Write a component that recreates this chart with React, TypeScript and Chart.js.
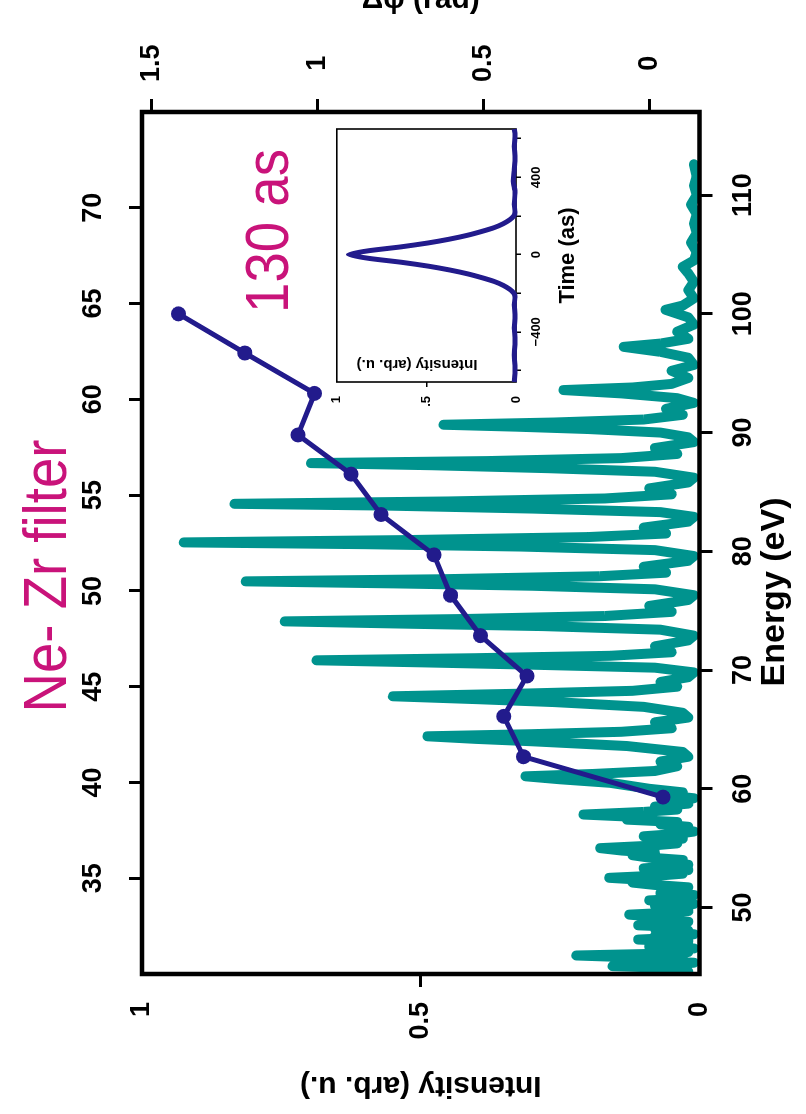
import React, { useEffect, useRef } from "react";
import { Chart, registerables } from "chart.js";

Chart.register(...registerables);

const FONT = '"Liberation Sans", Arial, Helvetica, sans-serif';
const TEAL = "#00938e";
const NAVY = "#221b8c";
const MAGENTA = "#c9137a";

// Harmonic spectrum transmitted through the Zr filter (energy in eV, intensity in arb. u.)
const spectrumEnergy = [
  44.6, 44.75, 44.9, 45.06, 45.2, 45.35, 45.5, 45.65, 45.8, 45.96, 46.1, 46.25, 46.4, 46.55, 46.7, 46.85,
  47.0, 47.15, 47.3, 47.45, 47.6, 47.75, 47.9, 48.05, 48.2, 48.35, 48.5, 48.65, 48.8, 48.95, 49.1, 49.25,
  49.4, 49.55, 49.7, 49.85, 50.0, 50.15, 50.3, 50.45, 50.6, 50.75, 50.9, 51.05, 51.2, 51.35, 51.5, 51.7,
  51.9, 52.1, 52.3, 52.5, 52.7, 52.85, 53.0, 53.15, 53.3, 53.45, 53.6, 53.8, 54.0, 54.2, 54.4, 54.6,
  54.8, 55.0, 55.2, 55.4, 55.6, 55.8, 56.0, 56.2, 56.4, 56.6, 56.8, 57.0, 57.2, 57.4, 57.6, 57.83,
  58.05, 58.25, 58.5, 58.75, 59.0, 59.2, 59.45, 59.7, 60.0, 60.5, 60.8, 61.05, 61.25, 61.5, 61.9, 62.3,
  62.7, 63.1, 63.6, 64.0, 64.2, 64.42, 64.6, 64.8, 65.1, 65.6, 66.0, 66.4, 66.9, 67.3, 67.55, 67.79,
  68.0, 68.25, 68.6, 69.0, 69.4, 69.8, 70.2, 70.45, 70.65, 70.82, 71.0, 71.2, 71.5, 72.0, 72.5, 72.9,
  73.4, 73.7, 73.9, 74.1, 74.3, 74.55, 74.9, 75.4, 75.9, 76.3, 76.8, 77.1, 77.3, 77.47, 77.65, 77.9,
  78.2, 78.7, 79.2, 79.6, 80.1, 80.4, 80.6, 80.75, 80.95, 81.2, 81.5, 82.0, 82.5, 82.9, 83.3, 83.6,
  83.85, 84.0, 84.2, 84.45, 84.8, 85.3, 85.8, 86.2, 86.7, 87.0, 87.25, 87.43, 87.6, 87.85, 88.2, 88.7,
  89.2, 89.6, 90.0, 90.3, 90.5, 90.66, 90.85, 91.1, 91.5, 92.0, 92.5, 92.9, 93.3, 93.58, 93.8, 94.1,
  94.6, 95.2, 95.7, 96.3, 96.8, 97.22, 97.5, 97.9, 98.5, 99.1, 99.7, 100.34, 100.7, 101.3, 102.0, 102.7,
  103.4, 103.96, 104.5, 105.2, 106.0, 106.8, 107.6, 108.4, 109.2, 110.0, 110.8, 111.6, 112.6,
];
const spectrumIntensity = [
  0.02, 0.08, 0.04, 0.156, 0.05, 0.01, 0.09, 0.03, 0.12, 0.221, 0.08, 0.02, 0.06, 0.01, 0.09, 0.03,
  0.07, 0.02, 0.11, 0.04, 0.08, 0.01, 0.06, 0.02, 0.08, 0.03, 0.11, 0.05, 0.02, 0.07, 0.04, 0.09,
  0.126, 0.06, 0.02, 0.07, 0.03, 0.08, 0.01, 0.05, 0.09, 0.02, 0.06, 0.01, 0.07, 0.03, 0.05, 0.02,
  0.08, 0.12, 0.09, 0.162, 0.07, 0.03, 0.08, 0.02, 0.10, 0.05, 0.02, 0.07, 0.03, 0.09, 0.12, 0.08,
  0.14, 0.178, 0.09, 0.04, 0.08, 0.03, 0.10, 0.04, 0.01, 0.05, 0.02, 0.07, 0.04, 0.13, 0.10, 0.208,
  0.10, 0.04, 0.08, 0.02, 0.05, 0.01, 0.06, 0.03, 0.09, 0.16, 0.25, 0.312, 0.19, 0.08, 0.04, 0.07,
  0.02, 0.03, 0.13, 0.30, 0.40, 0.488, 0.30, 0.14, 0.05, 0.08, 0.02, 0.03, 0.10, 0.26, 0.40, 0.55,
  0.33, 0.12, 0.04, 0.07, 0.02, 0.01, 0.08, 0.30, 0.50, 0.687, 0.40, 0.16, 0.05, 0.08, 0.02, 0.01,
  0.07, 0.28, 0.52, 0.744, 0.42, 0.17, 0.05, 0.09, 0.02, 0.01, 0.08, 0.30, 0.55, 0.814, 0.46, 0.18,
  0.06, 0.10, 0.02, 0.01, 0.08, 0.32, 0.60, 0.925, 0.52, 0.20, 0.06, 0.10, 0.02, 0.01, 0.07, 0.30,
  0.56, 0.834, 0.45, 0.17, 0.05, 0.09, 0.02, 0.01, 0.08, 0.27, 0.48, 0.697, 0.38, 0.14, 0.04, 0.08,
  0.01, 0.02, 0.07, 0.20, 0.33, 0.459, 0.26, 0.10, 0.03, 0.06, 0.01, 0.04, 0.14, 0.244, 0.12, 0.05,
  0.02, 0.05, 0.01, 0.02, 0.07, 0.136, 0.07, 0.02, 0.04, 0.01, 0.02, 0.061, 0.03, 0.01, 0.02, 0.01,
  0.02, 0.03, 0.01, 0.005, 0.015, 0.005, 0.01, 0.005, 0.015, 0.005, 0.01, 0.005, 0.01,
];

// Phase difference between neighbouring harmonics
const phaseEnergy = [59.3, 62.7, 66.1, 69.5, 72.9, 76.3, 79.7, 83.1, 86.5, 89.8, 93.3, 96.7, 100.0];
const phaseDelta = [-0.04, 0.38, 0.44, 0.37, 0.51, 0.6, 0.65, 0.81, 0.9, 1.06, 1.01, 1.22, 1.42];

const energyTicks = [50, 60, 70, 80, 90, 100, 110];
const energyLabels = ["50", "60", "70", "80", "90", "100", "110"];
const orderTicks = [35, 40, 45, 50, 55, 60, 65, 70];
const orderLabels = ["35", "40", "45", "50", "55", "60", "65", "70"];
const intensityTicks = [0, 0.5, 1];
const intensityLabels = ["0", "0.5", "1"];
const phaseTicks = [0, 0.5, 1, 1.5];
const phaseLabels = ["0", "0.5", "1", "1.5"];

// Reconstructed attosecond pulse (inset)
const pulseTime = [
  -660, -600, -520, -440, -380, -320, -260, -220, -200, -180, -160, -140, -120, -100, -80, -60, -40, -20, 0,
  20, 40, 60, 80, 100, 120, 140, 160, 180, 200, 220, 260, 320, 380, 440, 500, 560, 620, 650,
];
const pulseIntensity = [
  0.01, 0.005, 0.01, 0.005, 0.01, 0.005, 0.01, 0.005, 0.012, 0.035, 0.07, 0.12, 0.19, 0.27, 0.37, 0.49, 0.64, 0.82, 0.935,
  0.82, 0.64, 0.49, 0.37, 0.27, 0.19, 0.12, 0.07, 0.035, 0.012, 0.005, 0.01, 0.005, 0.015, 0.01, 0.005, 0.01, 0.005, 0.01,
];
const timeTicks = [-600, -400, -200, 0, 200, 400, 600];
const timeTickLabels = ["", "\u2212400", "", "0", "", "400", ""];
const insetIntensityTicks = [0, 0.5, 1];
const insetIntensityLabels = ["0", ".5", "1"];

type AxisSpec = {
  position: string;
  min: number;
  max: number;
  values: number[];
  labels: string[];
  fixed: number;
  tickLength: number;
  tickWidth: number;
  fontSize: number;
  padding: number;
  crossAlign?: string;
  marked?: number[];
  title?: any;
};

function makeAxis(spec: AxisSpec) {
  const marked = spec.marked;
  return {
    type: "linear",
    position: spec.position,
    min: spec.min,
    max: spec.max,
    afterBuildTicks: (scale: any) => {
      scale.ticks = spec.values.map((v) => ({ value: v }));
    },
    afterFit: (scale: any) => {
      if (scale.isHorizontal()) scale.height = spec.fixed;
      else scale.width = spec.fixed;
    },
    grid: {
      drawOnChartArea: false,
      drawTicks: true,
      tickLength: spec.tickLength,
      lineWidth: spec.tickWidth,
      tickWidth: spec.tickWidth,
      color: "#000",
      tickColor: marked
        ? (c: any) => (c.tick && marked.indexOf(c.tick.value) >= 0 ? "#000" : "rgba(0,0,0,0)")
        : "#000",
    },
    border: { display: false },
    ticks: {
      autoSkip: false,
      maxRotation: 0,
      minRotation: 0,
      padding: spec.padding,
      crossAlign: spec.crossAlign || "near",
      color: "#000",
      font: { family: FONT, size: spec.fontSize, weight: "bold" },
      callback: (_v: any, i: number) => spec.labels[i],
    },
    title: spec.title || { display: false },
  };
}

function drawCaption(ctx: CanvasRenderingContext2D, text: string, cx: number, baseline: number) {
  ctx.save();
  ctx.translate(cx, baseline);
  ctx.scale(0.88, 1);
  ctx.font = `62px ${FONT}`;
  ctx.fillStyle = MAGENTA;
  ctx.textAlign = "center";
  ctx.textBaseline = "alphabetic";
  ctx.fillText(text, 0, 0);
  ctx.restore();
}

const mainDecor = {
  id: "mainDecor",
  afterDraw(chart: any) {
    const { ctx, chartArea } = chart;
    ctx.save();
    ctx.strokeStyle = "#000";
    ctx.lineWidth = 4.5;
    ctx.strokeRect(chartArea.left, chartArea.top, chartArea.right - chartArea.left, chartArea.bottom - chartArea.top);
    // energy axis title, set somewhat left of the axis centre
    ctx.font = `bold 34px ${FONT}`;
    ctx.fillStyle = "#000";
    ctx.textAlign = "center";
    ctx.textBaseline = "middle";
    ctx.fillText("Energy (eV)", 522, 775);
    ctx.restore();
    drawCaption(ctx, "Ne- Zr filter", 538, 66);
    drawCaption(ctx, "130 as", 883, 288);
  },
};

const insetDecor = {
  id: "insetDecor",
  beforeDatasetsDraw(chart: any) {
    const { ctx, chartArea } = chart;
    ctx.save();
    ctx.fillStyle = "#fff";
    ctx.fillRect(chartArea.left, chartArea.top, chartArea.right - chartArea.left, chartArea.bottom - chartArea.top);
    ctx.strokeStyle = "#000";
    ctx.lineWidth = 1.6;
    ctx.strokeRect(chartArea.left, chartArea.top, chartArea.right - chartArea.left, chartArea.bottom - chartArea.top);
    ctx.restore();
  },
  afterDraw(chart: any) {
    const { ctx } = chart;
    ctx.save();
    ctx.translate(70, 97);
    ctx.rotate(-Math.PI / 2);
    ctx.font = `bold 15px ${FONT}`;
    ctx.fillStyle = "#000";
    ctx.textAlign = "center";
    ctx.textBaseline = "middle";
    ctx.fillText("Intensity (arb. u.)", 0, 0);
    ctx.restore();
  },
};

export default function App() {
  const mainRef = useRef<HTMLCanvasElement>(null);
  const insetRef = useRef<HTMLCanvasElement>(null);

  useEffect(() => {
    if (!mainRef.current || !insetRef.current) return;

    const titleFont = { family: FONT, size: 30, weight: "bold" };

    const main = new Chart(mainRef.current, {
      type: "line",
      data: {
        datasets: [
          {
            label: "phase",
            data: phaseEnergy.map((e, i) => ({ x: e, y: phaseDelta[i] })),
            xAxisID: "x",
            yAxisID: "y2",
            borderColor: NAVY,
            backgroundColor: NAVY,
            borderWidth: 5,
            pointRadius: 7.5,
            pointBorderWidth: 0,
            pointBackgroundColor: NAVY,
            tension: 0,
            borderJoinStyle: "round",
          },
          {
            label: "spectrum",
            data: spectrumEnergy.map((e, i) => ({ x: e, y: spectrumIntensity[i] })),
            xAxisID: "x",
            yAxisID: "y",
            borderColor: TEAL,
            borderWidth: 10,
            pointRadius: 0,
            tension: 0,
            borderJoinStyle: "round",
            borderCapStyle: "round",
            clip: 0,
          },
        ],
      } as any,
      options: {
        responsive: false,
        devicePixelRatio: 1,
        animation: false,
        plugins: { legend: { display: false }, tooltip: { enabled: false } },
        layout: { padding: 0 },
        scales: {
          x: makeAxis({
            position: "bottom", min: 44.4, max: 117.0, values: energyTicks, labels: energyLabels,
            fixed: 106.5, tickLength: 13, tickWidth: 3, fontSize: 27, padding: 15,
          }),
          x2: makeAxis({
            position: "top", min: 30, max: 75, values: orderTicks, labels: orderLabels,
            fixed: 142, tickLength: 13, tickWidth: 3, fontSize: 27, padding: 19,
          }),
          y: makeAxis({
            position: "left", min: 0, max: 1, values: intensityTicks, labels: intensityLabels,
            fixed: 140, tickLength: 13, tickWidth: 3, fontSize: 27, padding: 15, marked: [0.5],
            title: { display: true, text: "Intensity (arb. u.)", color: "#000", font: titleFont, padding: { top: 11, bottom: 0 } },
          }),
          y2: makeAxis({
            position: "right", min: -0.15, max: 1.53, values: phaseTicks, labels: phaseLabels,
            fixed: 112, tickLength: 13, tickWidth: 3, fontSize: 27, padding: 17, crossAlign: "center",
            title: { display: true, text: "\u0394\u03c6 (rad)", color: "#000", font: titleFont, padding: { top: -18, bottom: 0 } },
          }),
        } as any,
      },
      plugins: [mainDecor],
    });

    const inset = new Chart(insetRef.current, {
      type: "line",
      data: {
        datasets: [
          {
            label: "pulse",
            data: pulseTime.map((t, i) => ({ x: t, y: pulseIntensity[i] })),
            borderColor: NAVY,
            borderWidth: 5,
            pointRadius: 0,
            tension: 0.2,
            borderJoinStyle: "round",
            clip: 3,
          },
        ],
      } as any,
      options: {
        responsive: false,
        devicePixelRatio: 1,
        animation: false,
        plugins: { legend: { display: false }, tooltip: { enabled: false } },
        layout: { padding: { top: 15, right: 15, left: 0, bottom: 0 } },
        scales: {
          x: makeAxis({
            position: "bottom", min: -660, max: 650, values: timeTicks, labels: timeTickLabels,
            fixed: 84, tickLength: 5, tickWidth: 1.5, fontSize: 13, padding: 8,
            title: { display: true, text: "Time (as)", color: "#000", font: { family: FONT, size: 22, weight: "bold" }, padding: { top: 0, bottom: 19 } },
          }),
          y: makeAxis({
            position: "left", min: 0, max: 1, values: insetIntensityTicks, labels: insetIntensityLabels,
            fixed: 52, tickLength: 5, tickWidth: 1.5, fontSize: 13, padding: 9, marked: [0.5],
          }),
        } as any,
      },
      plugins: [insetDecor],
    });

    return () => {
      main.destroy();
      inset.destroy();
    };
  }, []);

  return (
    <div style={{ position: "absolute", left: 0, top: 0, width: 806, height: 1114, overflow: "hidden", background: "#fff" }}>
      <div
        style={{
          position: "absolute",
          left: 0,
          top: 0,
          width: 1114,
          height: 806,
          transformOrigin: "0 0",
          transform: "translate(0px, 1114px) rotate(-90deg)",
        }}
      >
        <canvas ref={mainRef} width={1114} height={806} style={{ position: "absolute", left: 0, top: 0 }} />
        <canvas ref={insetRef} width={320} height={280} style={{ position: "absolute", left: 680, top: 320 }} />
      </div>
    </div>
  );
}
